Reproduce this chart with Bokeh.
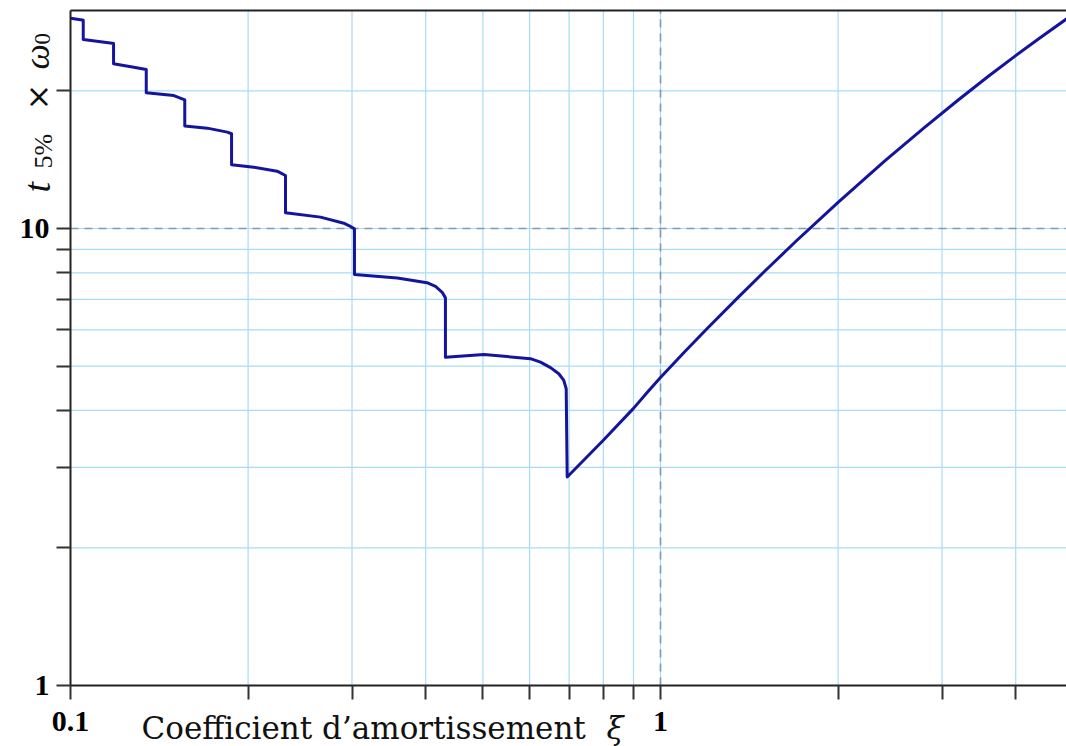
import math
from bokeh.plotting import figure
from bokeh.models import FixedTicker, Label, ColumnDataSource, Range1d, LogAxis
from bokeh.embed import file_html
from bokeh.resources import INLINE

# ---- data ----
xi = [0.1000, 0.1047, 0.1051, 0.1051, 0.1177, 0.1183, 0.1183, 0.1280, 0.1344, 0.1344,
      0.1497, 0.1562, 0.1562, 0.1705, 0.1844, 0.1875, 0.1875, 0.2045, 0.2240, 0.2314,
      0.2314, 0.2653, 0.2906, 0.2963, 0.3029, 0.3029, 0.3580, 0.4020, 0.4156, 0.4266,
      0.4320, 0.4320, 0.5020, 0.6020, 0.6260, 0.6510, 0.6724, 0.6857, 0.6921, 0.6948,
      0.7410, 0.8000, 0.9000, 0.9500, 1.0000, 1.1000, 1.2000, 1.3500, 1.5000, 1.7000,
      2.0000, 2.4000, 2.8000, 3.2000, 3.6000, 4.0000, 4.4000, 4.8800]
t5_w0 = [28.85, 28.60, 28.55, 25.92, 25.44, 25.40, 22.93, 22.54, 22.28, 19.82,
         19.54, 19.12, 16.77, 16.58, 16.25, 16.12, 13.79, 13.62, 13.35, 13.06,
         10.82, 10.59, 10.27, 10.15, 9.98, 7.93, 7.79, 7.61, 7.47, 7.25,
         7.05, 5.23, 5.30, 5.19, 5.10, 4.96, 4.81, 4.65, 4.46, 2.86,
         3.11, 3.44, 4.04, 4.38, 4.72, 5.38, 6.04, 7.04, 8.05, 9.40,
         11.41, 14.06, 16.63, 19.13, 21.56, 23.89, 26.15, 28.76]

x_ticks = [0.1, 0.2, 0.3, 0.4, 0.5, 0.6, 0.7, 0.8, 0.9, 1, 2, 3, 4]
x_tick_labels = ["0.1", "", "", "", "", "", "", "", "", "1", "", "", ""]
y_ticks = [1, 2, 3, 4, 5, 6, 7, 8, 9, 10, 20]
y_tick_labels = ["1", "", "", "", "", "", "", "", "", "10", ""]

x_label = "Coefficient d\u2019amortissement"
x_label_sym = "\u03be"
y_label_parts = ["t", "5%", "\u00d7", "\u03c9", "0"]

x_min = 0.1
y_lim = (1, 30)
ref_x = 1
ref_y = 10

# ---- layout (pixels) ----
W, H = 1066, 746
X0_PX = 70          # pixel column of x = x_min
Y0_PX = 685         # pixel row of y = y_lim[0]
DEC_X = 590         # pixels per decade, x
DEC_Y = 457         # pixels per decade, y

x_lo = x_min * 10 ** (-X0_PX / DEC_X)
x_max = x_min * 10 ** ((W - X0_PX) / DEC_X)
y_lo = y_lim[0] * 10 ** (-(H - Y0_PX) / DEC_Y)
y_hi = y_lim[0] * 10 ** (Y0_PX / DEC_Y)

p = figure(width=W, height=H, x_axis_type="log", y_axis_type="log",
           x_range=Range1d(x_lo, x_max), y_range=Range1d(y_lo, y_hi),
           output_backend="svg", toolbar_location=None,
           min_border_left=0, min_border_right=0, min_border_top=0, min_border_bottom=0,
           background_fill_color="white", border_fill_color="white")
p.outline_line_color = None
p.grid.visible = False

GRID = "#a9dbf7"
DASH = "#7f9bb0"

# grid lines (limited to the plotting area)
gx = [v for v in x_ticks if v != x_min]
gy = [v for v in y_ticks if v != y_lim[0]]
p.segment(x0=gx, y0=[y_lim[0]] * len(gx), x1=gx, y1=[y_lim[1]] * len(gx),
          line_color=GRID, line_width=1.2)
p.segment(x0=[x_min] * len(gy), y0=gy, x1=[x_max] * len(gy), y1=gy,
          line_color=GRID, line_width=1.2)
# dashed reference lines
p.segment(x0=[ref_x], y0=[y_lim[0]], x1=[ref_x], y1=[y_lim[1]],
          line_color=DASH, line_width=1.6, line_dash="8 6")
p.segment(x0=[x_min], y0=[ref_y], x1=[x_max], y1=[ref_y],
          line_color=DASH, line_width=1.6, line_dash="8 6")

src = ColumnDataSource(data=dict(x=xi, y=t5_w0))
p.line("x", "y", source=src, line_color="#14149c", line_width=3, line_join="round")

# axes
for ax in (p.xaxis[0], p.yaxis[0]):
    ax.axis_line_color = "#222222"
    ax.axis_line_width = 2
    ax.major_tick_line_color = "#333333"
    ax.major_tick_line_width = 2
    ax.major_tick_out = 14
    ax.major_tick_in = 0
    ax.minor_tick_line_color = None
    ax.major_label_text_font = "Liberation Serif"
    ax.major_label_text_font_style = "bold"
    ax.major_label_text_font_size = "30px"
    ax.major_label_text_color = "black"

xa = p.xaxis[0]
xa.fixed_location = y_lim[0]
xa.bounds = (x_min, x_max)
xa.ticker = FixedTicker(ticks=x_ticks)
xa.major_label_overrides = dict(zip(x_ticks, x_tick_labels))
xa.major_label_standoff = 12

ya = p.yaxis[0]
ya.fixed_location = x_min
ya.bounds = y_lim
ya.ticker = FixedTicker(ticks=y_ticks)
ya.major_label_overrides = dict(zip(y_ticks, y_tick_labels))
ya.major_label_standoff = 7

top = LogAxis(fixed_location=y_lim[1], bounds=(x_min, x_max), ticker=FixedTicker(ticks=[]),
              axis_line_color="#222222", axis_line_width=2, major_tick_out=0,
              major_tick_in=0, minor_tick_line_color=None,
              major_label_text_font_size="0px")
p.add_layout(top, "above")

# x axis title (between the 0.1 and 1 tick labels)
p.add_layout(Label(x=141, y=H - 727, x_units="screen", y_units="screen", text=x_label,
                   text_font="DejaVu Serif", text_font_size="31px", text_color="#111111",
                   text_align="left", text_baseline="alphabetic"))
p.add_layout(Label(x=606, y=H - 727, x_units="screen", y_units="screen", text=x_label_sym,
                   text_font="DejaVu Serif", text_font_style="italic", text_font_size="31px",
                   text_color="#111111", text_align="left", text_baseline="alphabetic"))

# y axis title, rotated pieces: t_{5%} x omega_0
pieces = [
    (y_label_parts[0], 36, H - 192, "38px", "italic", "Liberation Serif"),
    (y_label_parts[1], 43, H - 168, "26px", "normal", "Liberation Serif"),
    (y_label_parts[2], 37, H - 110, "32px", "normal", "DejaVu Serif"),
    (y_label_parts[3], 36, H - 69, "36px", "italic", "Liberation Serif"),
    (y_label_parts[4], 42, H - 44, "23px", "normal", "Liberation Serif"),
]
for txt, lx, ly, fs, st, fnt in pieces:
    p.add_layout(Label(x=lx, y=ly, x_units="screen", y_units="screen", text=txt,
                       angle=math.pi / 2, text_font=fnt, text_font_style=st,
                       text_font_size=fs, text_color="#111111", text_align="left",
                       text_baseline="alphabetic"))

open("out.html", "w").write(file_html(p, INLINE))
